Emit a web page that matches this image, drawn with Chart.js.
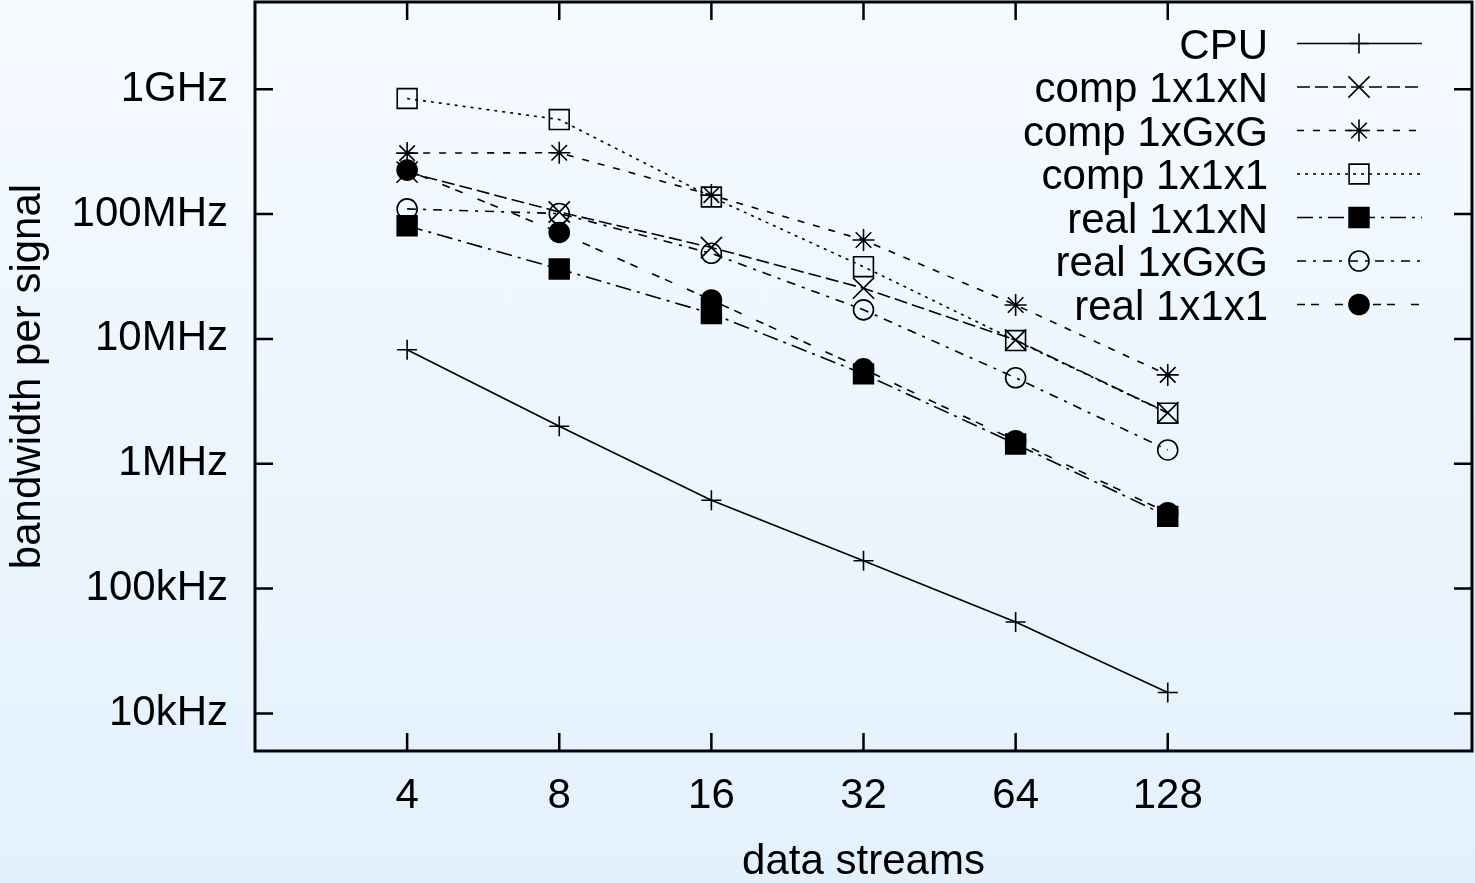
<!DOCTYPE html>
<html><head><meta charset="utf-8">
<script src="https://cdn.jsdelivr.net/npm/chart.js@4.4.1/dist/chart.umd.min.js"></script>
<style>
html,body{margin:0;padding:0;width:1475px;height:883px;overflow:hidden;background:linear-gradient(#f5faff,#e3f1fd);}
canvas{display:block;}
</style></head><body>
<canvas id="c" width="1475" height="883"></canvas>
<script>
// ---- data ----
const streams = [4, 8, 16, 32, 64, 128];
const seriesNames = ['CPU', 'comp 1x1xN', 'comp 1xGxG', 'comp 1x1x1', 'real 1x1xN', 'real 1xGxG', 'real 1x1x1'];
const cpu       = [8.2e6, 2.0e6, 5.1e5, 1.67e5, 5.4e4, 1.47e4];
const comp1x1xN = [2.17e8, 1.04e8, 5.4e7, 2.55e7, 9.8e6, 2.56e6];
const comp1xGxG = [3.08e8, 3.1e8, 1.42e8, 6.2e7, 1.87e7, 5.15e6];
const comp1x1x1 = [8.43e8, 5.72e8, 1.37e8, 3.79e7, 9.7e6, 2.54e6];
const real1x1xN = [8.06e7, 3.63e7, 1.6e7, 5.25e6, 1.44e6, 3.79e5];
const real1xGxG = [1.1e8, 1.01e8, 4.85e7, 1.71e7, 4.88e6, 1.29e6];
const real1x1x1 = [2.25e8, 7.13e7, 2.05e7, 5.75e6, 1.53e6, 4.05e5];
const xTickValues = [4, 8, 16, 32, 64, 128];
const xTickLabels = ['4', '8', '16', '32', '64', '128'];
const yTickValues = [1e4, 1e5, 1e6, 1e7, 1e8, 1e9];
const yTickLabels = ['10kHz', '100kHz', '1MHz', '10MHz', '100MHz', '1GHz'];
const xTitle = 'data streams';
const yTitle = 'bandwidth per signal';

// ---- styles ----
const FONT = "'Liberation Sans', Arial, Helvetica, sans-serif";
const FS = 42;
const seriesValues = [cpu, comp1x1xN, comp1xGxG, comp1x1x1, real1x1xN, real1xGxG, real1x1x1];
const styles = [
  {dash: [], point: 'cross', r: 10, fill: 'rgba(0,0,0,0)'},
  {dash: [13, 5], point: 'crossRot', r: 15, fill: 'rgba(0,0,0,0)'},
  {dash: [7, 9], point: 'star', r: 11, fill: 'rgba(0,0,0,0)'},
  {dash: [3, 5], point: 'rect', r: 14, fill: 'rgba(0,0,0,0)'},
  {dash: [16, 6, 3, 6], point: 'rect', r: 14, fill: '#000'},
  {dash: [9, 7, 3, 7], point: 'circle', r: 10, fill: 'rgba(0,0,0,0)'},
  {dash: [8, 6, 8, 16], point: 'circle', r: 10, fill: '#000'}
];

const datasets = seriesNames.map((name, i) => ({
  label: name,
  data: streams.map((s, j) => ({x: s, y: seriesValues[i][j]})),
  borderColor: '#000',
  borderWidth: 1.6,
  borderDash: styles[i].dash,
  pointStyle: styles[i].point,
  pointRadius: styles[i].r,
  pointHoverRadius: styles[i].r,
  pointBorderColor: '#000',
  pointBorderWidth: 1.6,
  pointBackgroundColor: styles[i].fill,
  backgroundColor: styles[i].fill,
  fill: false,
  tension: 0,
  clip: false
}));

const gnuplotFrame = {
  id: 'gnuplotFrame',
  beforeDatasetsDraw(chart) {
    const {ctx, chartArea: a, scales: {x, y}} = chart;
    ctx.save();
    ctx.strokeStyle = '#000';
    ctx.lineWidth = 2.5;
    ctx.setLineDash([]);
    ctx.beginPath();
    yTickValues.forEach(v => {
      const p = y.getPixelForValue(v);
      ctx.moveTo(a.left, p); ctx.lineTo(a.left + 18, p);
      ctx.moveTo(a.right, p); ctx.lineTo(a.right - 18, p);
    });
    xTickValues.forEach(v => {
      const p = x.getPixelForValue(v);
      ctx.moveTo(p, a.bottom); ctx.lineTo(p, a.bottom - 18);
      ctx.moveTo(p, a.top); ctx.lineTo(p, a.top + 18);
    });
    ctx.stroke();
    ctx.lineWidth = 3;
    ctx.strokeRect(a.left, a.top, a.right - a.left, a.bottom - a.top);
    ctx.restore();
  },
  afterDraw(chart) {
    const ctx = chart.ctx;
    const textRight = 1268, lineL = 1297, lineR = 1422, markX = 1359;
    const top = 43.5, step = 43.5;
    ctx.save();
    chart.data.datasets.forEach((ds, i) => {
      const ly = top + i * step;
      ctx.font = FS + 'px ' + FONT;
      ctx.fillStyle = '#000';
      ctx.textAlign = 'right';
      ctx.textBaseline = 'alphabetic';
      ctx.fillText(ds.label, textRight, ly + 15);
      ctx.strokeStyle = '#000';
      ctx.lineWidth = ds.borderWidth;
      ctx.setLineDash(ds.borderDash);
      ctx.beginPath();
      ctx.moveTo(lineL, ly); ctx.lineTo(lineR, ly);
      ctx.stroke();
      ctx.setLineDash([]);
      ctx.lineWidth = ds.pointBorderWidth;
      ctx.fillStyle = ds.pointBackgroundColor;
      Chart.helpers.drawPoint(ctx, {pointStyle: ds.pointStyle, rotation: 0, radius: ds.pointRadius, borderWidth: ds.pointBorderWidth}, markX, ly);
    });
    ctx.restore();
  }
};

function noPad(s) { s.paddingTop = 0; s.paddingBottom = 0; s.paddingLeft = 0; s.paddingRight = 0; }

new Chart(document.getElementById('c'), {
  type: 'line',
  data: {datasets},
  plugins: [gnuplotFrame],
  options: {
    responsive: false,
    animation: false,
    devicePixelRatio: 1,
    events: [],
    layout: {autoPadding: false, padding: {top: 2, right: 3, left: 0, bottom: 0}},
    plugins: {legend: {display: false}, tooltip: {enabled: false}, title: {display: false}},
    scales: {
      x: {
        type: 'logarithmic',
        min: 2, max: 512,
        grid: {display: false, drawTicks: false},
        border: {display: false},
        afterBuildTicks: s => { s.ticks = xTickValues.map(v => ({value: v})); },
        afterFit: s => { s.height = 132; noPad(s); },
        ticks: {
          autoSkip: false, maxRotation: 0, padding: 20, color: '#000',
          font: {family: FONT, size: FS},
          callback: v => xTickLabels[xTickValues.indexOf(v)] ?? ''
        },
        title: {display: true, text: xTitle, color: '#000', font: {family: FONT, size: FS, lineHeight: 0.97}, padding: {top: 0, bottom: 0}}
      },
      y: {
        type: 'logarithmic',
        min: 5000, max: 5e9,
        grid: {display: false, drawTicks: false},
        border: {display: false},
        afterBuildTicks: s => { s.ticks = yTickValues.map(v => ({value: v})); },
        afterFit: s => { s.width = 255; noPad(s); },
        ticks: {
          autoSkip: false, padding: 27, color: '#000',
          font: {family: FONT, size: FS},
          callback: v => yTickLabels[yTickValues.indexOf(v)] ?? ''
        },
        title: {display: true, text: yTitle, color: '#000', font: {family: FONT, size: FS}, padding: {top: 3, bottom: 0}}
      }
    }
  }
});
</script>
</body></html>
